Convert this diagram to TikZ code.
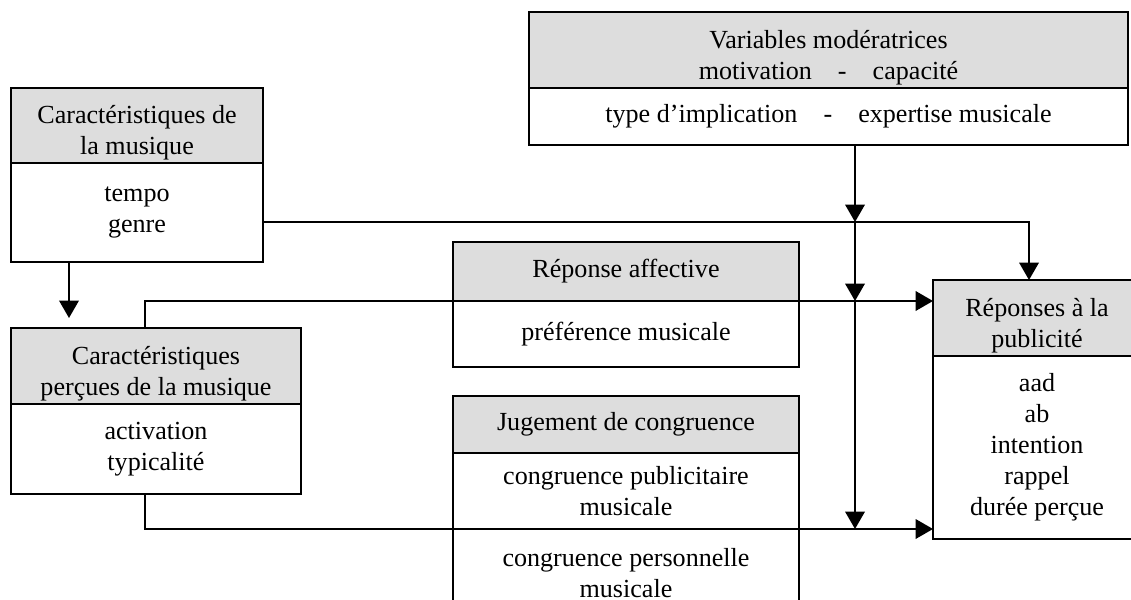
\documentclass[tikz,border=0pt]{standalone}
\usepackage{fontspec}
\setmainfont{Liberation Serif}
\usetikzlibrary{arrows.meta,calc}
\definecolor{hdgray}{RGB}{221,221,221}
\newcommand{\pxl}{0.46pt}

\begin{document}
\begin{tikzpicture}[x=0.46pt, y=-0.46pt]
	\tikzstyle{every node}=[font=\fontsize{12pt}{14.3pt}\selectfont]
	\tikzstyle{hd}=[draw, line width=0.8pt, fill=hdgray, inner sep=0pt, outer sep=0pt, align=center, anchor=north west]
	\tikzstyle{hdtwo}=[hd, text height=29.5pt]
	\tikzstyle{bd}=[hd, fill=white]
	\tikzstyle{arr}=[line width=0.8pt, -{Triangle[length=8pt, width=9pt]}]
	\useasboundingbox (0,0) rectangle (1131,600);
	\clip (0,0) rectangle (1131,600);
	% boxes
	\node [hdtwo, minimum width=252*\pxl, minimum height=75*\pxl] (mush) at (11,88) {Caractéristiques de\\la musique};
	\node [bd, minimum width=252*\pxl, minimum height=99*\pxl] (musb) at (11,163) {tempo\\genre};
	\node [hdtwo, minimum width=290*\pxl, minimum height=76*\pxl] (perh) at (11,328) {Caractéristiques\\perçues de la musique};
	\node [bd, minimum width=290*\pxl, minimum height=90*\pxl] (perb) at (11,404) {activation\\typicalité};
	\node [hdtwo, minimum width=599*\pxl, minimum height=76*\pxl] (varh) at (529,12) {Variables modératrices\\motivation\quad-\quad capacité};
	\node [bd, minimum width=599*\pxl, minimum height=57*\pxl] (varb) at (529,88) {type d’implication\quad-\quad expertise musicale};
	\node [hd, minimum width=346*\pxl, minimum height=59*\pxl] (affh) at (453,242) {Réponse affective};
	\node [bd, minimum width=346*\pxl, minimum height=66*\pxl] (affb) at (453,301) {préférence musicale};
	\node [hd, minimum width=346*\pxl, minimum height=57*\pxl] (jugh) at (453,396) {Jugement de congruence};
	\node [bd, minimum width=346*\pxl, minimum height=76*\pxl] (jugm) at (453,453) {congruence publicitaire\\musicale};
	\node [bd, minimum width=346*\pxl, minimum height=88*\pxl] (jugl) at (453,529) {congruence personnelle\\musicale};
	\node [hdtwo, minimum width=208*\pxl, minimum height=76*\pxl] (reph) at (933,280) {Réponses à la\\publicité};
	\node [bd, minimum width=208*\pxl, minimum height=183*\pxl] (repb) at (933,356) {aad\\ab\\intention\\rappel\\durée perçue};
	% connectors
	\coordinate (gen) at ($(musb.east)+(0,9.5)$);
	\coordinate (mod) at ($(varb.south)+(26.5,0)$);
	\draw [arr] ($(musb.south west)+(58,0)$) -- ($(perh.north west)+(58,-10)$);
	\draw [arr] (gen) -| ($(reph.north)+(-8,0)$);
	\draw [arr] (mod) -- (mod |- gen);
	\draw [arr] (mod |- gen) -- (mod |- affb.north);
	\draw [arr] (mod |- affb.north) -- (mod |- jugm.south);
	\draw [arr] ($(perh.north west)+(134,0)$) |- (reph.west |- affb.north);
	\draw [arr] ($(perb.south west)+(134,0)$) |- (repb.west |- jugm.south);
\end{tikzpicture}
\end{document}
